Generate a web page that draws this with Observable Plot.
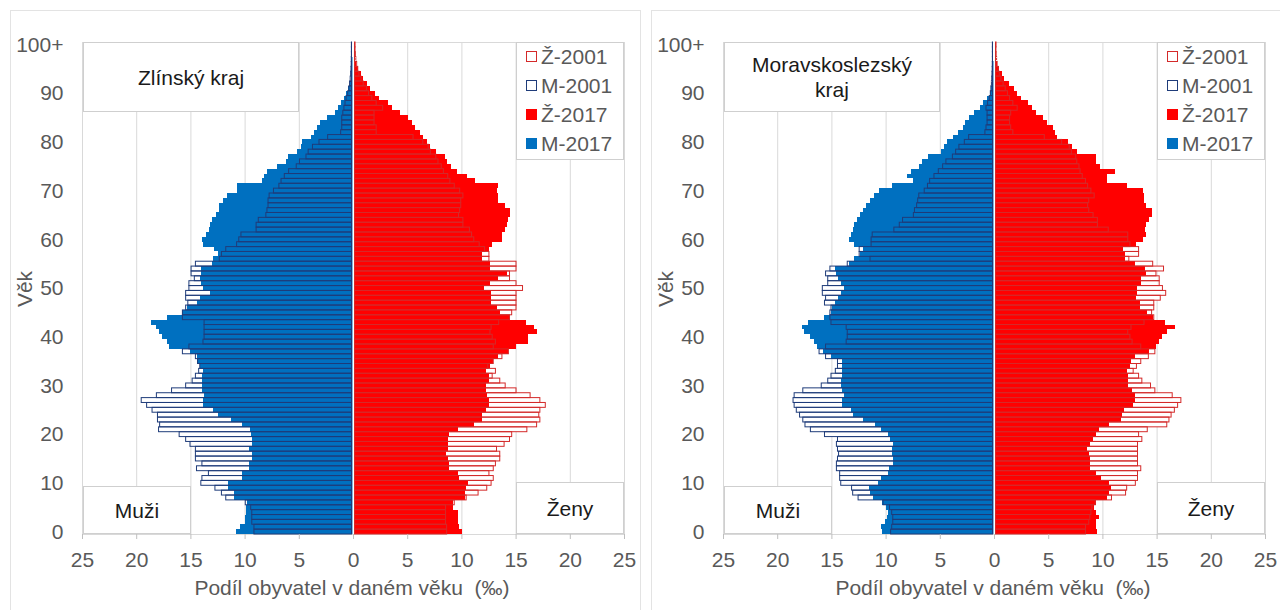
<!DOCTYPE html>
<html><head><meta charset="utf-8">
<script src="https://cdn.jsdelivr.net/npm/d3@7"></script>
<script src="https://cdn.jsdelivr.net/npm/@observablehq/plot@0.6"></script>
<style>
body{margin:0;background:#fff;font-family:"Liberation Sans",Arial,sans-serif;}
#wrap{position:relative;width:1280px;height:610px;overflow:hidden;background:#fff}
.panel{position:absolute;top:0;width:640px;height:610px}
.panel svg{position:absolute;left:0;top:0}
.border{position:absolute;border:1px solid #e3e3e3;box-sizing:border-box}
.box{position:absolute;background:#fff;border:1px solid #cfcfcf;box-sizing:border-box;display:flex;align-items:center;justify-content:center;text-align:center;color:#1a1a1a;font-size:21px;line-height:25px}
.ylab{position:absolute;left:5px;top:277px;width:40px;height:24px;line-height:24px;text-align:center;transform:rotate(-90deg);font-size:21px;color:#595959}
.xlab{position:absolute;top:576px;left:52px;width:600px;text-align:center;font-size:21px;line-height:24px;color:#595959;white-space:pre}
.leg{position:absolute;background:#fff;border:1px solid #cfcfcf;box-sizing:border-box;font-size:21px;color:#595959}
.li{position:absolute;left:9px;height:24px;line-height:24px;white-space:nowrap}
.sw{display:inline-block;width:11px;height:11px;box-sizing:border-box;vertical-align:middle;margin-right:4px;position:relative;top:-2px}
</style></head>
<body><div id="wrap"></div>
<script>
// categories: age 0 .. 100 (100 = "100+")
const ages = d3.range(0, 101);
const xTicks = [-25, -20, -15, -10, -5, 0, 5, 10, 15, 20, 25];
const yTicks = [0, 10, 20, 30, 40, 50, 60, 70, 80, 90, 100];
const seriesNames = ["Ž-2001", "M-2001", "Ž-2017", "M-2017"];

// Zlínský kraj (‰)
const zlinMuzi2017 = [10.8,10.4,10.0,10.0,9.9,9.9,9.8,11.0,11.0,11.5,
 11.5,10.2,10.2,9.6,9.6,9.3,9.3,9.6,9.3,9.3,
 9.4,9.5,10.2,11.3,12.5,12.9,13.8,13.8,13.7,13.9,
 13.9,13.9,13.9,13.8,14.1,14.4,14.4,15.0,17.0,17.2,
 17.6,17.9,18.2,18.6,17.2,15.8,15.3,14.4,14.1,13.2,
 13.8,14.0,14.1,14.0,14.0,13.0,12.9,12.5,12.8,13.8,
 13.9,13.6,13.3,13.2,13.0,12.6,12.4,12.4,12.0,11.6,
 10.7,10.7,8.4,8.2,7.9,7.0,6.2,6.0,5.2,4.8,
 4.7,3.9,3.6,3.3,3.0,2.4,1.7,1.4,1.1,0.8,
 0.6,0.45,0.3,0.2,0.15,0.1,0.08,0.05,0.03,0.02,
 0.02];
const zlinMuzi2001 = [9.0,9.0,9.2,9.2,9.2,9.3,9.8,11.6,12.0,12.6,
 13.9,13.8,13.2,14.3,13.8,14.4,14.4,14.4,14.9,15.3,
 15.9,17.8,17.7,17.9,17.9,18.4,18.9,19.4,18.0,16.6,
 15.3,14.7,14.4,14.1,14.0,14.2,14.4,15.6,15.0,13.7,
 13.6,13.6,13.6,13.6,15.6,15.6,15.3,15.1,15.3,15.3,
 15.0,15.0,14.5,14.8,14.8,14.4,12.2,12.0,11.6,10.6,
 10.4,10.2,8.8,8.8,8.6,7.9,7.8,7.7,7.7,7.6,
 7.2,6.7,6.5,6.2,5.8,5.1,4.8,4.2,4.0,3.6,
 3.0,2.2,1.0,0.9,0.9,0.9,0.8,0.7,0.6,0.5,
 0.35,0.25,0.18,0.12,0.08,0.05,0.03,0.02,0.01,0.01,
 0.01];
const zlinZeny2017 = [10.1,9.8,9.7,9.7,9.7,9.2,9.2,10.3,10.3,10.4,
 10.6,9.8,9.7,8.9,8.9,8.8,8.6,8.8,8.8,8.8,
 8.9,9.7,11.2,11.9,11.9,12.3,12.5,12.5,12.4,12.3,
 12.3,12.5,12.5,12.3,12.6,12.9,13.4,14.3,15.0,16.1,
 16.1,17.0,16.7,16.0,14.5,13.6,13.3,12.7,12.7,12.7,
 12.1,12.6,13.4,14.2,12.6,12.6,11.9,11.9,12.5,12.8,
 13.7,13.7,14.0,14.2,14.3,14.5,14.5,14.0,13.4,13.4,
 13.3,13.4,11.3,10.5,9.6,9.0,8.7,8.5,7.7,7.1,
 6.8,6.5,6.2,5.7,5.4,5.1,4.3,3.6,3.2,2.4,
 2.0,1.6,1.3,0.9,0.7,0.5,0.3,0.2,0.12,0.08,
 0.1];
const zlinZeny2001 = [8.5,8.5,8.4,8.4,8.4,8.4,9.2,10.3,11.4,12.2,
 12.6,12.8,12.4,12.8,13.0,13.4,13.4,13.1,13.8,14.3,
 14.5,15.9,16.8,17.1,17.0,17.1,17.6,17.1,16.2,14.9,
 13.9,13.4,12.7,13.0,12.3,12.8,13.6,14.2,12.8,13.0,
 12.7,12.5,12.6,13.3,14.3,14.5,14.9,14.9,14.9,14.9,
 15.5,14.9,14.3,14.3,14.9,14.9,12.4,12.4,12.0,11.5,
 11.0,10.8,10.6,10.0,10.0,9.6,9.7,9.8,9.8,10.0,
 9.7,9.2,8.8,8.6,8.2,8.0,7.7,7.5,7.0,6.8,
 6.3,5.4,2.0,2.0,1.8,1.8,1.8,2.6,2.0,1.6,
 1.3,1.1,0.8,0.6,0.4,0.3,0.2,0.12,0.08,0.05,
 0.05];

// Moravskoslezský kraj (‰)
const msMuzi2017 = [10.3,10.4,10.1,9.9,9.8,10.0,10.3,11.2,11.4,11.5,
 10.7,10.4,9.8,9.7,9.3,9.3,9.4,9.4,9.3,9.6,
 9.8,10.4,11.0,12.1,13.0,13.2,14.0,14.0,13.8,14.0,
 14.1,14.1,14.0,14.0,14.0,14.0,15.0,15.8,16.3,16.6,
 17.0,17.5,17.7,17.2,15.7,15.0,14.9,14.7,14.4,14.1,
 13.8,14.1,14.4,14.6,14.7,13.4,12.9,12.4,12.1,12.9,
 13.4,13.2,13.0,12.9,12.6,12.4,12.1,11.8,11.4,11.1,
 10.6,9.4,7.5,8.0,7.7,6.9,6.6,6.1,4.9,4.6,
 4.3,3.8,3.3,2.9,2.7,2.3,1.8,1.3,1.0,0.6,
 0.35,0.25,0.15,0.12,0.1,0.07,0.05,0.03,0.02,0.02,
 0.02];
const msMuzi2001 = [9.4,9.3,9.2,9.2,9.3,9.5,10.1,12.4,12.9,13.0,
 14.0,14.1,14.1,14.4,14.4,14.3,14.2,14.3,14.4,14.3,
 15.5,16.8,17.3,17.5,17.8,18.1,18.3,18.4,18.3,17.5,
 15.8,15.2,14.9,14.5,14.3,14.3,15.4,16.0,15.4,13.5,
 13.4,13.4,13.5,14.9,15.0,15.0,14.9,15.5,15.4,15.7,
 15.7,15.2,15.2,15.4,15.0,13.4,11.3,12.3,12.3,11.2,
 11.2,11.1,9.1,8.6,8.3,7.3,7.2,7.0,6.9,6.8,
 6.3,6.0,5.8,5.4,5.0,4.6,4.3,3.7,3.4,3.1,
 2.6,2.2,0.7,0.6,0.5,0.5,0.5,0.6,0.45,0.3,
 0.2,0.15,0.1,0.07,0.05,0.03,0.02,0.01,0.01,0.01,
 0.01];
const msZeny2017 = [9.5,9.4,9.4,9.7,9.4,9.2,9.4,10.4,10.6,10.8,
 10.6,9.9,9.4,8.9,8.9,8.9,8.8,8.6,8.9,9.1,
 9.4,9.7,10.6,11.7,11.8,12.0,12.8,13.0,13.0,12.7,
 12.4,12.4,12.4,12.3,12.5,12.6,13.0,14.3,14.9,15.2,
 15.5,16.0,16.7,15.8,14.7,14.1,13.5,13.5,13.1,13.2,
 13.2,13.6,13.6,14.0,13.9,13.0,12.1,12.1,11.9,13.1,
 13.7,14.0,13.9,14.0,14.3,14.6,14.6,14.0,13.8,13.8,
 13.7,12.3,10.4,10.4,11.2,9.8,9.4,9.4,7.7,7.2,
 6.8,5.8,5.6,5.4,4.9,4.5,3.9,3.5,3.1,2.5,
 2.1,1.8,1.4,0.9,0.7,0.5,0.3,0.2,0.12,0.08,
 0.05];
const msZeny2001 = [8.3,8.3,8.6,8.7,8.8,8.9,9.2,10.7,12.0,12.1,
 12.9,13.1,13.1,13.4,13.1,13.1,13.1,13.1,13.1,13.5,
 13.2,14.0,15.8,16.0,16.2,16.5,16.8,17.1,16.3,14.7,
 14.3,13.5,13.2,12.7,13.0,13.4,14.1,14.7,13.4,12.6,
 12.4,12.2,12.5,13.7,14.6,14.4,14.6,14.6,15.2,15.7,
 15.4,15.1,15.1,14.8,15.5,14.5,12.3,13.2,13.2,12.4,
 12.2,12.2,10.4,9.4,9.4,9.0,8.6,8.5,8.6,9.1,
 8.8,8.5,8.3,8.0,7.8,7.7,7.5,7.4,7.0,6.8,
 6.1,4.5,1.6,1.4,1.3,1.3,1.4,2.0,1.6,1.3,
 1.1,0.9,0.7,0.5,0.35,0.25,0.15,0.1,0.06,0.04,
 0.05];

const C = {m17: "#0070C0", z17: "#FF0000", m01: "#1F3C7A", z01: "#D42A2A"};

function pyramid(m17, m01, z17, z01) {
  const rows = ages.map((a, i) => ({age: a, m17: -m17[i], m01: -m01[i], z17: z17[i], z01: z01[i]}));
  return Plot.plot({
    width: 640, height: 610,
    marginLeft: 82, marginRight: 16, marginTop: 42, marginBottom: 76,
    style: {fontFamily: "'Liberation Sans', Arial, sans-serif", fontSize: "21px", background: "transparent", overflow: "visible"},
    x: {domain: [-25, 25]},
    y: {type: "band", domain: ages.slice().reverse(), padding: 0},
    marks: [
      Plot.gridX(xTicks, {stroke: "#d9d9d9", strokeOpacity: 1}),
      Plot.frame({stroke: "#d9d9d9"}),
      // 2001 background (white where 2001 exceeds 2017)
      Plot.barX(rows, {y: "age", x1: 0, x2: "m01", fill: "white", insetTop: 0, insetBottom: 0}),
      Plot.barX(rows, {y: "age", x1: 0, x2: "z01", fill: "white", insetTop: 0, insetBottom: 0}),
      // 2017 filled bars
      Plot.barX(rows, {y: "age", x1: 0, x2: "m17", fill: C.m17, insetTop: 0, insetBottom: 0, shapeRendering: "crispEdges"}),
      Plot.barX(rows, {y: "age", x1: 0, x2: "z17", fill: C.z17, insetTop: 0, insetBottom: 0, shapeRendering: "crispEdges"}),
      Plot.ruleX([0], {stroke: "white", strokeWidth: 2}),
      // 2001 outlines
      Plot.barX(rows, {y: "age", x1: 0, x2: "m01", fill: "none", stroke: C.m01, strokeWidth: 1, dx: -1.5, insetTop: 0, insetBottom: 0}),
      Plot.barX(rows, {y: "age", x1: 0, x2: "z01", fill: "none", stroke: C.z01, strokeWidth: 1, dx: 1.5, insetTop: 0, insetBottom: 0}),
      Plot.axisX(xTicks, {tickFormat: d => Math.abs(d), tickSize: 5, tickPadding: 13, stroke: "#bfbfbf", fill: "#595959", label: null}),
      Plot.axisY(yTicks, {tickSize: 0, tickPadding: 19, tickFormat: d => d === 100 ? "100+" : String(d), fill: "#595959", label: null})
    ]
  });
}

function legendHTML(left) {
  const items = [
    {t: seriesNames[0], s: `border:1.5px solid ${C.z01};background:#fff`},
    {t: seriesNames[1], s: `border:1.5px solid ${C.m01};background:#fff`},
    {t: seriesNames[2], s: `background:${C.z17}`},
    {t: seriesNames[3], s: `background:${C.m17}`}
  ];
  return `<div class="leg" style="left:${left}px;top:42px;width:108px;height:118px">` +
    items.map((d, i) => `<div class="li" style="top:${2 + i * 29}px"><span class="sw" style="${d.s}"></span>${d.t}</div>`).join("") +
    `</div>`;
}

const wrap = document.getElementById("wrap");
const panels = [
  {left: 0, title: "Zlínský kraj", data: [zlinMuzi2017, zlinMuzi2001, zlinZeny2017, zlinZeny2001]},
  {left: 641, title: "Moravskoslezský<br>kraj", data: [msMuzi2017, msMuzi2001, msZeny2017, msZeny2001]}
];
panels.forEach(p => {
  const div = document.createElement("div");
  div.className = "panel";
  div.style.left = p.left + "px";
  div.innerHTML = `<div class="border" style="left:10px;top:10px;width:631px;height:640px"></div>`;
  div.appendChild(pyramid(...p.data));
  div.insertAdjacentHTML("beforeend",
    `<div class="box" style="left:83px;top:42px;width:216px;height:70px">${p.title}</div>` +
    `<div class="box" style="left:83px;top:486px;width:108px;height:48px">Muži</div>` +
    `<div class="box" style="left:516px;top:482px;width:108px;height:52px">Ženy</div>` +
    legendHTML(516) +
    `<div class="ylab">Věk</div>` +
    `<div class="xlab">Podíl obyvatel v daném věku  (‰)</div>`);
  wrap.appendChild(div);
});
</script>
</body></html>
